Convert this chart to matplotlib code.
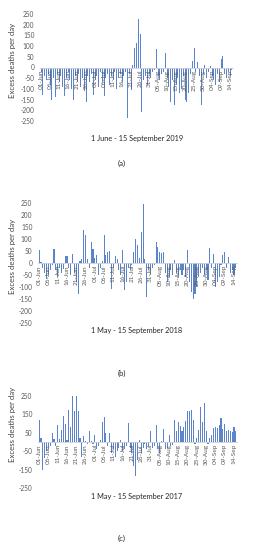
import matplotlib
matplotlib.use("Agg")
import matplotlib.pyplot as plt

# ---------------- data ----------------
tick_labels = ['01-Jun', '06-Jun', '11-Jun', '16-Jun', '21-Jun', '26-Jun',
               '01-Jul', '06-Jul', '11-Jul', '16-Jul', '21-Jul', '26-Jul',
               '31-Jul', '05-Aug', '10-Aug', '15-Aug', '20-Aug', '25-Aug',
               '30-Aug', '04-Sep', '09-Sep', '14-Sep']

excess_2019 = [-20, -130, -40, -60, -30, -80, -150, -50, -140, -30,
               -70, -40, -90, -135, -50, -20, -60, -100, -150, -40,
               -70, -30, -90, -50, -110, -160, -40, -70, -30, -130,
               -60, -40, -90, -20, -70, -135, -50, -30, -80, -40,
               -60, -20, -100, -50, -30, -70, -40, -20, -235, -30,
               -105, 10, 92, 115, 225, 155, -210, -60, -40, -80,
               -30, -50, -20, -10, 85, -40, -60, -30, -20, 70,
               -50, -90, -160, -60, -175, -80, -50, -120, -100, -40,
               -150, -160, -120, -30, 30, 90, -20, 25, -40, -175,
               -30, 12, -50, -20, 5, -40, -60, -80, -30, -70,
               38, 55, -30, -50, -20, -40, -10]

excess_2018 = [53, 5, -20, -40, -65, -50, -30, -10, 60, -30,
               -60, -20, -40, -25, 28, 28, -20, -50, 39, -40,
               -80, -128, 10, 15, 136, 115, 18, -20, 87, 60,
               20, 35, -50, -20, 10, 115, 32, 46, 50, -107,
               -20, 28, 15, -30, -50, 53, -114, -80, -20, -30,
               -10, 46, 101, 74, 20, 129, 247, 18, -142, -30,
               -50, -20, -10, 87, 67, 46, 43, 46, -40, -80,
               -60, -30, -50, 11, -40, -60, -30, -50, -30, -60,
               53, -80, -120, -149, -130, -100, -60, -40, -20, -50,
               -30, -70, 64, -20, 39, -100, -80, -60, -10, 32,
               46, -20, 25, -40, -30, -50, -20]

excess_2017 = [121, 22, -150, -87, -50, -40, -20, 49, 15, -20,
               91, 15, 67, 140, 98, 10, 176, 80, 250, 167,
               250, 167, 22, -80, 35, 5, -10, 58, 8, -10,
               36, -40, -20, 10, 107, 134, 49, -20, 49, -60,
               -40, -80, -50, -30, 10, -50, -40, -20, 103, -30,
               -60, -130, -187, -100, 10, -60, -30, -10, -40, -20,
               58, -30, -20, 91, -40, -60, 5, 72, -40, -30,
               40, -20, -15, 121, 62, 107, 85, 60, 80, 112,
               170, 167, 176, 121, -10, 22, 67, 188, 109, 212,
               58, -10, 22, 40, 76, 80, 76, 91, 128, 69,
               98, 58, 67, 62, 55, 80, 60]

titles = ['1 June - 15 September 2019', '1 May - 15 September 2018',
          '1 May - 15 September 2017']
captions = ['(a)', '(b)', '(c)']
ylabel = 'Excess deaths per day'

# ---------------- layout ----------------
W, H = 254, 550
fig = plt.figure(figsize=(W / 100, H / 100), dpi=100)
plt.rcParams['font.family'] = ['Lato', 'DejaVu Sans']

def frac_box(x0, x1, ytop, ybot):
    return [x0 / W, 1 - ybot / H, (x1 - x0) / W, (ybot - ytop) / H]

panels = [
    dict(data=excess_2019, box=frac_box(40, 233, 14, 121),
         yticks=list(range(-250, 251, 50)), ylab_y=60, title_y=138, cap_y=163),
    dict(data=excess_2018, box=frac_box(38, 237, 203, 323),
         yticks=list(range(-250, 251, 50)), ylab_y=256, title_y=330, cap_y=373),
    dict(data=excess_2017, box=frac_box(38, 237, 396, 488),
         yticks=[-250, -150, -50, 50, 150, 250], ylab_y=424, title_y=496, cap_y=538),
]

bar_color = '#5b84cc'
txt_gray = '#595959'

for p, title, cap in zip(panels, titles, captions):
    ax = fig.add_axes(p['box'])
    for s in ['top', 'right', 'left']:
        ax.spines[s].set_visible(False)
    ax.spines['bottom'].set_position(('data', 0))
    ax.spines['bottom'].set_color('#d0d0d0')
    ax.spines['bottom'].set_linewidth(0.6)
    vals = p['data']
    ax.bar(range(len(vals)), vals, width=0.6, color=bar_color, linewidth=0)
    ax.set_xlim(-0.6, len(vals) - 0.4)
    ax.set_ylim(-250, 250)
    ax.set_yticks(p['yticks'])
    ax.set_yticklabels([str(v) for v in p['yticks']], fontsize=4.7, color=txt_gray)
    ax.set_xticks(range(0, len(vals), 5))
    ax.set_xticklabels(tick_labels, fontsize=4.6, color=txt_gray, rotation=90)
    ax.tick_params(axis='y', length=0, pad=4)
    ax.tick_params(axis='x', length=0, pad=1.5)
    ax.patch.set_alpha(0)
    fig.text(13 / W, 1 - p['ylab_y'] / H, ylabel, rotation=90, fontsize=5.6,
             color='#404040', ha='center', va='center')
    fig.text(137 / W, 1 - p['title_y'] / H, title, fontsize=5.3,
             color='#262626', ha='center', va='center')
    fig.text(122 / W, 1 - p['cap_y'] / H, cap, fontsize=5.6,
             color='#262626', ha='center', va='center')

fig.savefig('out.png', dpi=100, facecolor='white')
